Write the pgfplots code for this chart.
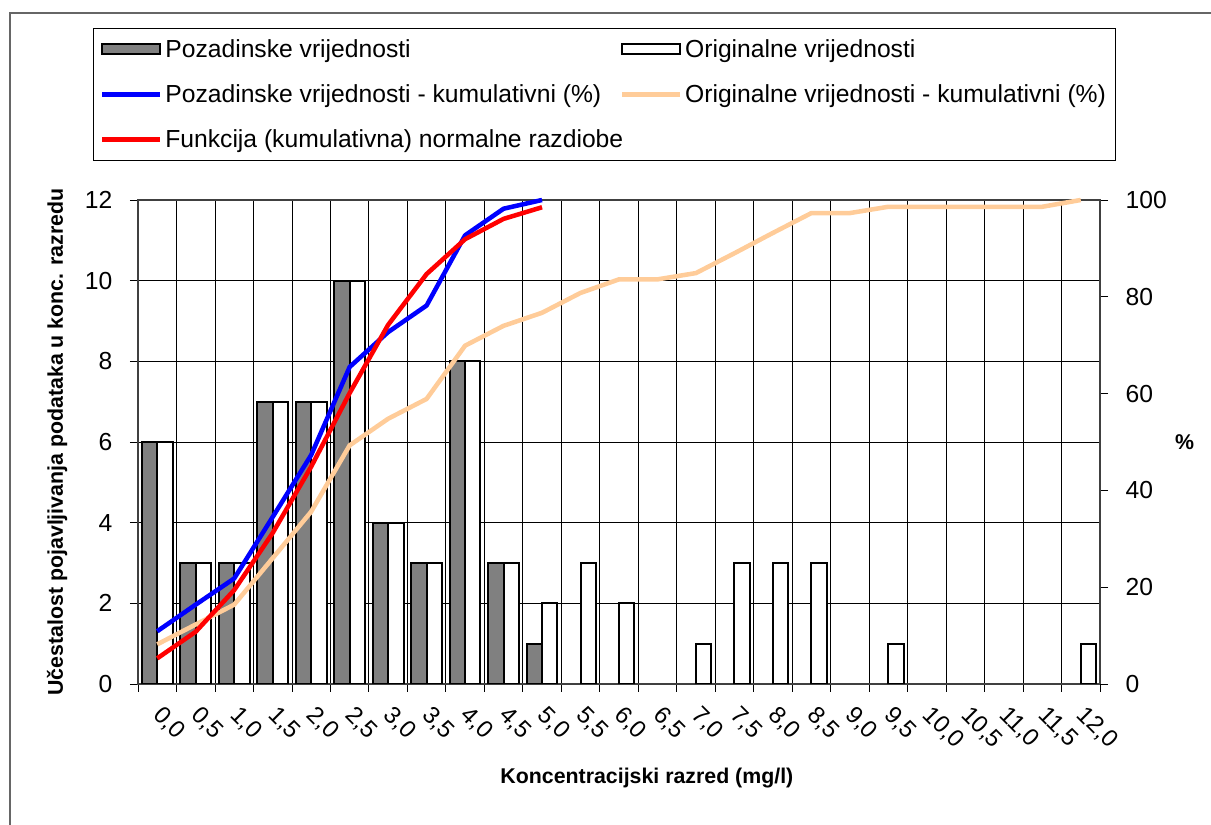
\documentclass[border=0pt]{standalone}
\usepackage{pgfplots}
\pgfplotsset{compat=1.18}
\usepackage{fontspec}
\setmainfont{Liberation Sans}
\definecolor{barGray}{RGB}{128,128,128}
\definecolor{peach}{RGB}{255,204,153}
\pgfplotsset{
  barlegend/.style={legend image code/.code={\draw[##1] (0pt,-3.5pt) rectangle (43.5pt,3.5pt);}},
  linelegend/.style={legend image code/.code={\draw[##1] (0pt,0pt) -- (43.5pt,0pt);}},
}
\begin{document}
\begin{tikzpicture}
\path[use as bounding box] (0,0) rectangle (908.25pt,618.75pt);
\draw[black!60, line width=1.2pt] (7.5pt,-20pt) -- (7.5pt,609pt) -- (930pt,609pt);
\begin{axis}[
  at={(103.5pt,105.75pt)}, anchor=south west,
  width=721.5pt, height=363pt, scale only axis,
  xmin=-0.5, xmax=24.5, ymin=0, ymax=12,
  xtick={-0.5,0.5,...,24.5}, xticklabels={},
  extra x ticks={0,1,...,24},
  extra x tick labels={{0,0},{0,5},{1,0},{1,5},{2,0},{2,5},{3,0},{3,5},{4,0},{4,5},{5,0},{5,5},{6,0},{6,5},{7,0},{7,5},{8,0},{8,5},{9,0},{9,5},{10,0},{10,5},{11,0},{11,5},{12,0}},
  extra x tick style={grid=none, major tick length=0pt},
  ytick={0,2,...,12},
  xmajorgrids, ymajorgrids,
  major grid style={black, line width=0.6pt},
  tick align=outside, xtick pos=bottom, ytick pos=left,
  major tick length=6pt,
  tick style={black, line width=0.6pt},
  axis line style={black!75, line width=0.9pt},
  /pgf/number format/assume math mode=true,
  tick label style={font=\fontsize{18.5}{20}\selectfont},
  yticklabel style={inner sep=0pt, xshift=-13pt},
  xticklabel style={font=\fontsize{18}{20}\selectfont, xshift=5pt, yshift=-15pt, rotate=-45, anchor=north west, inner sep=0pt},
  xlabel={Koncentracijski razred (mg/l)},
  xlabel style={font=\bfseries\fontsize{16}{18}\selectfont, at={(axis description cs:0.529,-0.194)}, anchor=center},
  ylabel={Učestalost pojavljivanja podataka u konc. razredu},
  ylabel style={font=\bfseries\fontsize{16}{18}\selectfont, at={(axis description cs:-0.084,0.5)}, anchor=center},
]
\addplot[ybar, bar width=0.4, bar shift=-0.2, fill=barGray, draw=black, line width=1.5pt]
  coordinates {(0,6) (1,3) (2,3) (3,7) (4,7) (5,10) (6,4) (7,3) (8,8) (9,3) (10,1)};
\addplot[ybar, bar width=0.4, bar shift=0.2, fill=white, draw=black, line width=1.5pt]
  coordinates {(0,6) (1,3) (2,3) (3,7) (4,7) (5,10) (6,4) (7,3) (8,8) (9,3) (10,2) (11,3) (12,2) (14,1) (15,3) (16,3) (17,3) (19,1) (24,1)};
\end{axis}
\begin{axis}[
  at={(103.5pt,105.75pt)}, anchor=south west,
  width=721.5pt, height=363pt, scale only axis,
  xmin=-0.5, xmax=24.5, ymin=0, ymax=100,
  clip=false,
  axis x line=none, axis y line*=right,
  ytick={0,20,...,100},
  tick align=outside, major tick length=6pt,
  tick style={black, line width=0.6pt},
  axis line style={black!75, line width=0.9pt, -},
  /pgf/number format/assume math mode=true,
  tick label style={font=\fontsize{18.5}{20}\selectfont},
  yticklabel style={inner sep=0pt, xshift=13pt},
  ylabel={\%},
  ylabel style={font=\bfseries\fontsize{16}{18}\selectfont, rotate=-90, at={(axis description cs:1.088,0.5)}, anchor=center},
  legend columns=2,
  legend cell align=left,
  legend style={at={(axis description cs:-0.0468,1.3554)}, anchor=north west, draw=black, line width=0.75pt,
    font=\fontsize{18.5}{20}\selectfont,
    /tikz/every even column/.append style={column sep=-4.5pt},
    row sep=15pt, inner xsep=5pt, inner ysep=6pt},
]
\addlegendimage{fill=barGray, draw=black, line width=1.5pt, barlegend}
\addlegendentry{Pozadinske vrijednosti}
\addlegendimage{fill=white, draw=black, line width=1.5pt, barlegend}
\addlegendentry{Originalne vrijednosti}
\addplot[blue, line width=3.4pt, mark=none, line join=round, linelegend]
  coordinates {(0,10.9) (1,16.4) (2,21.8) (3,34.5) (4,47.3) (5,65.5) (6,72.7) (7,78.2) (8,92.7) (9,98.2) (10,100)};
\addlegendentry{Pozadinske vrijednosti - kumulativni (\%)}
\addplot[peach, line width=3.4pt, mark=none, line join=round, linelegend]
  coordinates {(0,8.2) (1,12.3) (2,16.4) (3,26.0) (4,35.6) (5,49.3) (6,54.8) (7,58.9) (8,69.9) (9,74.0) (10,76.7) (11,80.8) (12,83.6) (13,83.6) (14,84.9) (15,89.0) (16,93.2) (17,97.3) (18,97.3) (19,98.6) (20,98.6) (21,98.6) (22,98.6) (23,98.6) (24,100)};
\addlegendentry{Originalne vrijednosti - kumulativni (\%)}
\addplot[red, line width=3.4pt, mark=none, line join=round, linelegend]
  coordinates {(0,5.3) (1,10.8) (2,19.4) (3,31.2) (4,44.9) (5,60.1) (6,74.2) (7,84.7) (8,91.9) (9,96.1) (10,98.5)};
\addlegendentry{Funkcija (kumulativna) normalne razdiobe}
\end{axis}
\end{tikzpicture}
\end{document}
